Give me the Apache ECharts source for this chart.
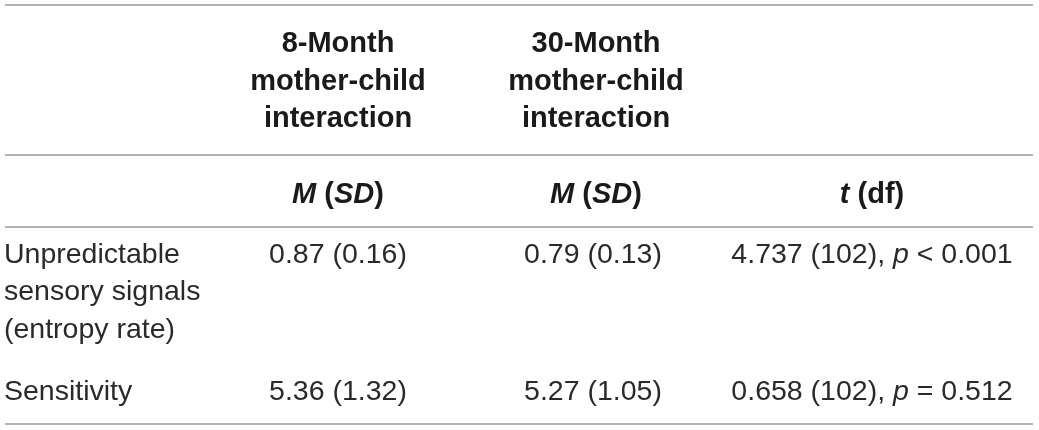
<!DOCTYPE html>
<html>
<head>
<meta charset="utf-8">
<script src="https://cdn.jsdelivr.net/npm/echarts@6/dist/echarts.min.js"></script>
<style>
  html, body { margin: 0; padding: 0; background: #fff; }
  #tbl { width: 1039px; height: 430px; }
</style>
</head>
<body>
<div id="tbl"></div>
<script>
// column headers (one entry per line)
var head8 = ['8-Month', 'mother-child', 'interaction'];
var head30 = ['30-Month', 'mother-child', 'interaction'];
var subHeads = ['{bi|M} {b|(}{bi|SD}{b|)}', '{bi|M} {b|(}{bi|SD}{b|)}', '{bi|t} {b|(df)}'];

// rows
var rowLabels = [['Unpredictable', 'sensory signals', '(entropy rate)'], ['Sensitivity']];
var mean8 = [0.87, 5.36];
var sd8 = [0.16, 1.32];
var mean30 = [0.79, 5.27];
var sd30 = [0.13, 1.05];
var tVals = ['4.737', '0.658'];
var dfs = [102, 102];
var pTexts = ['< 0.001', '= 0.512'];

var chart = echarts.init(document.getElementById('tbl'));

var FONT = '"Liberation Sans", Arial, Helvetica, sans-serif';
var fsBold = 29;
var fs = 28.5;
var lineGap = 37.5;
var colX = [4, 338, 596, 872];
var ruleY = [5, 155, 227, 424];

function txt(x, y, text, align, bold) {
	return {
		type: 'text',
		x: x,
		y: y,
		silent: true,
		style: {
			text: text,
			fill: bold ? '#1a1a1a' : '#2a2a2a',
			fontFamily: FONT,
			fontSize: bold ? fsBold : fs,
			fontWeight: bold ? 'bold' : 'normal',
			align: align,
			verticalAlign: 'middle',
			rich: {
				b:  {fontFamily: FONT, fontSize: fsBold, fontWeight: 'bold', fill: '#1a1a1a'},
				bi: {fontFamily: FONT, fontSize: fsBold, fontWeight: 'bold', fontStyle: 'italic', fill: '#1a1a1a'},
				n:  {fontFamily: FONT, fontSize: fs, fill: '#2a2a2a'},
				i:  {fontFamily: FONT, fontSize: fs, fontStyle: 'italic', fill: '#2a2a2a'}
			}
		}
	};
}

function rule(y) {
	return {
		type: 'line',
		silent: true,
		shape: {x1: 5, y1: y, x2: 1033, y2: y},
		style: {stroke: '#9a9a9a', lineWidth: 1.6}
	};
}

var els = [];
ruleY.forEach(function (y) { els.push(rule(y)); });

// header block
head8.forEach(function (s, i) {
	els.push(txt(colX[1], 44 + i * lineGap, s, 'center', true));
});
head30.forEach(function (s, i) {
	els.push(txt(colX[2], 44 + i * lineGap, s, 'center', true));
});
subHeads.forEach(function (s, i) {
	els.push(txt(colX[i + 1], 195, s, 'center', true));
});

// body rows
var rowTop = [255, 392];
rowLabels.forEach(function (lines, r) {
	lines.forEach(function (s, k) {
		els.push(txt(colX[0], rowTop[r] + k * lineGap, s, 'left', false));
	});
	els.push(txt(colX[1], rowTop[r], mean8[r].toFixed(2) + ' (' + sd8[r].toFixed(2) + ')', 'center', false));
	els.push(txt(colX[2] - 3, rowTop[r], mean30[r].toFixed(2) + ' (' + sd30[r].toFixed(2) + ')', 'center', false));
	els.push(txt(colX[3], rowTop[r],
		'{n|' + tVals[r] + ' (' + dfs[r] + '), }{i|p}{n| ' + pTexts[r] + '}', 'center', false));
});

var option = {
	backgroundColor: '#fff',
	animation: false,
	graphic: {elements: els}
};

chart.setOption(option);
</script>
</body>
</html>
